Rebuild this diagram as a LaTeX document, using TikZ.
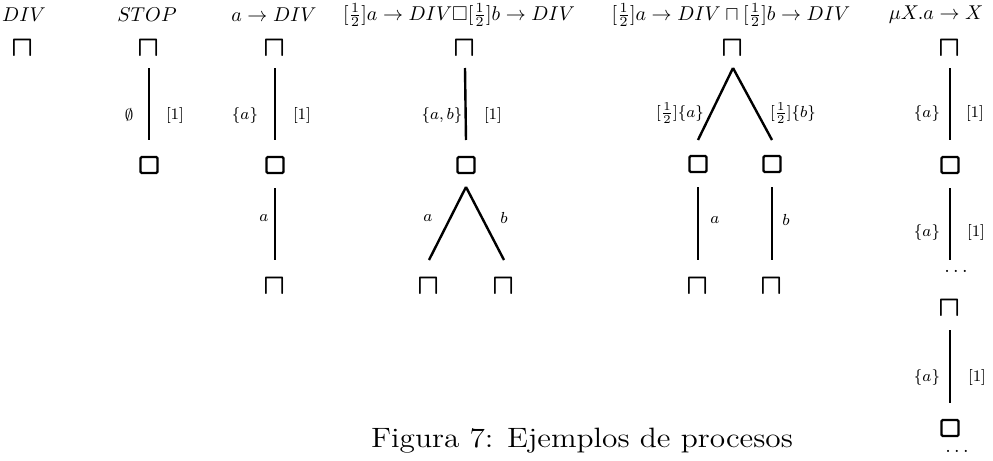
\documentclass[tikz,border=0pt]{standalone}
\usepackage{amsmath,amssymb}
\usetikzlibrary{arrows,shapes}
\tikzstyle{edge}=[line width=1.2pt]
\tikzstyle{head}=[inner sep=0pt, font=\normalsize]
\tikzstyle{lbl}=[inner sep=0pt, font=\footnotesize]
\tikzstyle{meet}=[inner sep=0pt, font=\fontsize{15}{15}\selectfont]
\tikzstyle{choice}=[draw, line width=1.1pt, minimum width=8.5pt, minimum height=8pt, inner sep=0pt, rounded corners=0.6pt]
\newcommand{\meetsym}{$\boldsymbol{\sqcap}$}
\newcommand{\half}{[\tfrac{1}{2}]}

\begin{document}
\begin{tikzpicture}[x=0.5pt, y=-0.5pt]
\useasboundingbox (0,0) rectangle (993,461);
% headings
\node[head] (h1) at (24,15) {$DIV$};
\node[head] (h2) at (147,15) {$STOP$};
\node[head] (h3) at (274,15) {$a\rightarrow DIV$};
\node[head] (h4) at (459,15) {$\half a\rightarrow DIV\Box\half b\rightarrow DIV$};
\node[head] (h5) at (731,15) {$\half a\rightarrow DIV\sqcap\half b\rightarrow DIV$};
\node[head] (h6) at (936,15) {$\mu X.a\rightarrow X$};
% DIV
\node[meet] (r1) at (23,48) {\meetsym};
% STOP
\node[meet] (r2) at (149,48) {\meetsym};
\node[choice] (s2) at (149,165) {};
\node[lbl] (l2a) at (129,115) {$\emptyset$};
\node[lbl] (l2b) at (175,115) {$[1]$};
\draw[edge]([yshift=-10pt]r2.center)--([yshift=12.5pt]s2.center);
% a -> DIV
\node[meet] (r3) at (275,48) {\meetsym};
\node[choice] (s3) at (275,165) {};
\node[meet] (t3) at (275,286) {\meetsym};
\node[lbl] (l3a) at (245,115) {$\{a\}$};
\node[lbl] (l3b) at (302,115) {$[1]$};
\node[lbl] (l3c) at (264,218) {$a$};
\draw[edge]([yshift=-10pt]r3.center)--([yshift=12.5pt]s3.center);
\draw[edge]([yshift=-11.5pt]s3.center)--([yshift=13pt]t3.center);
% external choice
\node[meet] (r4) at (465,48) {\meetsym};
\node[choice] (s4) at (466,165) {};
\node[meet] (t4a) at (429,286) {\meetsym};
\node[meet] (t4b) at (504,286) {\meetsym};
\node[lbl] (l4a) at (442,115) {$\{a,b\}$};
\node[lbl] (l4b) at (493,115) {$[1]$};
\node[lbl] (l4c) at (428,218) {$a$};
\node[lbl] (l4d) at (504,218) {$b$};
\draw[edge]([yshift=-10pt]r4.center)--([yshift=12.5pt]s4.center);
\draw[edge]([yshift=-11pt]s4.center)--([yshift=13pt]t4a.center);
\draw[edge]([yshift=-11pt]s4.center)--([yshift=13pt]t4b.center);
% internal choice
\node[meet] (r5) at (733,48) {\meetsym};
\node[choice] (s5a) at (698,164) {};
\node[choice] (s5b) at (772,164) {};
\node[meet] (t5a) at (698,286) {\meetsym};
\node[meet] (t5b) at (772,286) {\meetsym};
\node[lbl] (l5a) at (680,113) {$\half\{a\}$};
\node[lbl] (l5b) at (793,113) {$\half\{b\}$};
\node[lbl] (l5c) at (715,220) {$a$};
\node[lbl] (l5d) at (786,220) {$b$};
\draw[edge]([yshift=-10pt]r5.center)--([yshift=12pt]s5a.center);
\draw[edge]([yshift=-10pt]r5.center)--([yshift=12pt]s5b.center);
\draw[edge]([yshift=-11.5pt]s5a.center)--([yshift=13pt]t5a.center);
\draw[edge]([yshift=-11.5pt]s5b.center)--([yshift=13pt]t5b.center);
% recursion
\node[meet] (r6) at (950,48) {\meetsym};
\node[choice] (s6) at (950,165) {};
\node (d6a) at (956,271) {$\ldots$};
\node[meet] (t6) at (950,308) {\meetsym};
\node[choice] (u6) at (950,428) {};
\node (d6b) at (957,451) {$\ldots$};
\node[lbl] (l6a) at (927,113) {$\{a\}$};
\node[lbl] (l6b) at (975,113) {$[1]$};
\node[lbl] (l6c) at (927,232) {$\{a\}$};
\node[lbl] (l6d) at (976,232) {$[1]$};
\node[lbl] (l6e) at (927,377) {$\{a\}$};
\node[lbl] (l6f) at (977,377) {$[1]$};
\draw[edge]([yshift=-10pt]r6.center)--([yshift=12.5pt]s6.center);
\draw[edge]([yshift=-11.5pt]s6.center)--([yshift=-47.5pt]s6.center);
\draw[edge]([yshift=-11pt]t6.center)--([yshift=12.5pt]u6.center);
% caption
\node[font=\fontsize{14}{16}\selectfont, anchor=base] (fig) at (582,447) {\scalebox{1.12}[1]{Figura 7: Ejemplos de procesos}};
\end{tikzpicture}
\end{document}
